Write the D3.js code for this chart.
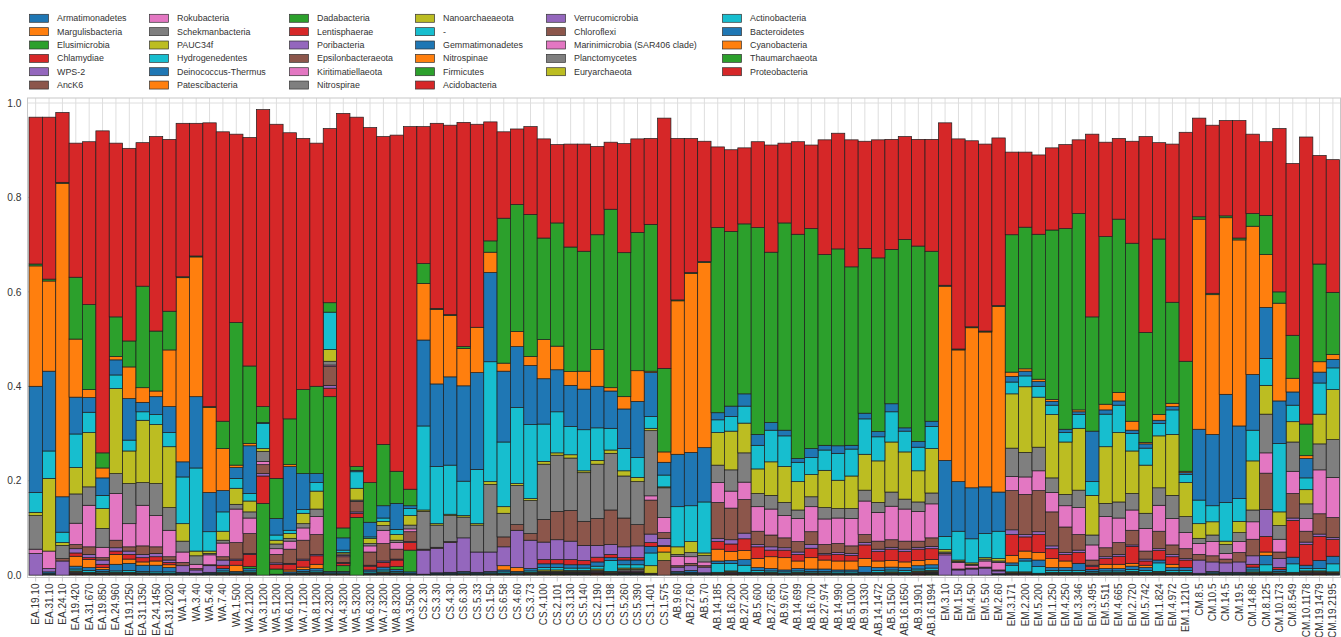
<!DOCTYPE html>
<html>
<head>
<meta charset="utf-8">
<script src="https://cdn.jsdelivr.net/npm/d3@7"></script>
<style>
  body { margin: 0; background: #fff; }
  svg text { font-family: "Liberation Sans", Arial, sans-serif; fill: #333; }
</style>
</head>
<body>
<svg id="chart"></svg>
<script>
// sample names, left to right
const samples = [
  "EA.19.10","EA.31.10","EA.24.10","EA.19.420","EA.31.670","EA.19.850","EA.24.960","EA.19.1250","EA.31.1350","EA.24.1450",
  "EA.31.2020","WA.1.40","WA.3.40","WA.5.40","WA.7.40","WA.1.500","WA.2.1200","WA.3.1200","WA.5.1200","WA.6.1200",
  "WA.7.1200","WA.8.1200","WA.2.3200","WA.4.3200","WA.5.3200","WA.6.3200","WA.7.3200","WA.8.3200","WA.3.5000","CS.2.30",
  "CS.3.30","CS.4.30","CS.6.30","CS.5.33","CS.1.50","CS.6.58","CS.4.60","CS.3.73","CS.4.100","CS.2.101",
  "CS.3.130","CS.5.140","CS.2.190","CS.1.198","CS.5.260","CS.5.390","CS.1.401","CS.1.575","AB.9.60","AB.27.60",
  "AB.5.70","AB.14.185","AB.16.200","AB.27.200","AB.5.600","AB.27.650","AB.9.670","AB.14.699","AB.16.700","AB.27.974",
  "AB.14.990","AB.5.1000","AB.9.1330","AB.14.1472","AB.5.1500","AB.16.1650","AB.9.1901","AB.16.1994","EM.3.10","EM.1.50",
  "EM.4.50","EM.5.50","EM.2.60","EM.3.171","EM.2.200","EM.5.200","EM.1.250","EM.4.250","EM.3.346","EM.3.495",
  "EM.5.511","EM.4.665","EM.2.720","EM.5.742","EM.1.824","EM.4.972","EM.1.1210","CM.8.5","CM.10.5","CM.14.5",
  "CM.19.5","CM.14.86","CM.8.125","CM.10.173","CM.8.549","CM.10.1178","CM.19.1479","CM.19.2195"
];

// relative abundance per sample, in thousandths
const Armatimonadetes = [
  0,0,0,0,0,0,0,0,0,0, 0,0,0,0,0,0,0,0,0,0, 0,0,0,0,0,0,0,0,0,0, 0,0,0,0,0,0,0,0,0,0,
  0,0,0,0,1,1,0,0,0,0, 0,0,0,0,0,0,0,0,0,0, 0,0,0,0,0,0,0,0,0,0, 0,0,0,0,0,0,0,0,0,0,
  0,0,0,0,0,0,0,0,0,0, 0,0,0,0,0,0,0,0];
const Margulisbacteria = [
  0,0,0,0,0,0,0,0,0,0, 0,0,0,0,0,0,0,0,0,0, 0,0,0,0,0,0,0,0,0,0, 0,0,0,0,0,0,0,0,1,1,
  0,0,0,0,0,0,0,0,0,0, 0,0,0,0,0,0,0,0,0,0, 0,0,0,0,0,0,0,0,0,0, 0,0,0,0,0,0,0,0,0,0,
  0,0,0,0,0,0,0,0,0,0, 0,0,0,0,0,0,0,0];
const Elusimicrobia = [
  0,0,0,0,0,0,0,0,0,0, 0,0,0,0,0,0,0,0,0,0, 0,0,0,0,0,0,0,0,0,0, 0,0,0,0,0,0,0,0,0,0,
  0,0,0,0,0,0,0,0,0,0, 0,0,1,1,0,0,0,0,0,0, 0,0,0,0,0,0,0,0,0,0, 0,0,0,0,0,0,0,0,0,0,
  0,0,0,0,0,0,0,0,0,0, 0,0,0,0,0,0,0,0];
const Chlamydiae = [
  0,0,0,0,0,0,0,0,0,0, 0,0,0,0,0,0,0,0,0,0, 0,0,0,0,0,0,0,0,0,0, 0,0,0,0,0,0,0,0,0,0,
  0,0,1,0,0,0,0,0,0,0, 0,0,0,0,0,0,0,0,0,0, 0,0,0,0,0,0,1,0,0,0, 0,0,0,0,0,0,0,0,0,0,
  0,0,0,0,0,0,0,0,0,0, 0,0,0,0,0,0,0,0];
const WPS2 = [
  0,0,0,0,0,0,0,0,0,0, 0,0,0,0,0,0,0,0,0,0, 0,0,0,0,0,0,0,0,0,0, 0,0,0,0,0,0,0,0,0,0,
  1,1,0,0,0,0,0,0,0,0, 0,0,0,0,0,0,0,0,0,0, 0,0,0,0,0,0,0,0,0,0, 0,0,0,0,0,0,0,0,0,0,
  0,0,0,0,0,0,0,0,0,0, 0,0,0,0,0,0,0,0];
const AncK6 = [
  0,0,0,0,0,0,0,0,0,0, 0,0,0,0,0,0,0,0,0,0, 0,0,0,0,0,0,0,0,0,0, 0,0,0,0,0,0,0,0,0,0,
  0,0,0,0,1,0,0,0,0,0, 0,0,0,0,0,0,0,0,0,0, 0,0,0,0,0,0,0,0,0,0, 0,0,0,1,0,0,0,0,0,0,
  0,0,0,0,0,0,0,0,0,0, 0,0,0,0,0,0,0,0];
const Rokubacteria = [
  0,0,0,0,0,0,0,0,0,0, 0,0,0,0,0,0,0,0,0,0, 0,0,0,0,0,0,0,0,0,0, 0,0,0,0,0,0,0,0,0,0,
  0,0,0,0,0,1,0,0,0,0, 0,0,0,0,0,0,0,0,0,0, 0,0,0,0,0,0,0,0,0,0, 0,0,0,0,1,0,0,0,0,0,
  0,0,0,0,0,0,0,0,0,0, 0,0,0,0,0,0,0,0];
const Schekmanbacteria = [
  0,0,0,1,0,0,0,0,0,0, 0,0,0,0,0,0,0,0,0,0, 0,0,0,0,0,0,0,0,0,0, 0,0,0,0,0,0,0,0,0,0,
  0,0,0,0,0,0,0,0,0,0, 0,0,0,0,0,0,0,0,0,0, 0,0,0,0,1,0,0,0,0,0, 0,0,0,0,0,0,0,0,0,0,
  0,0,0,0,0,0,0,0,0,0, 0,0,0,0,0,0,0,0];
const PAUC34f = [
  0,0,0,0,0,0,0,0,0,0, 0,0,0,0,0,0,0,0,0,0, 0,0,0,0,0,0,0,0,0,0, 0,0,0,0,0,0,0,0,0,0,
  0,0,0,0,0,0,0,0,0,0, 0,0,0,0,0,0,0,0,0,0, 0,0,0,0,0,0,0,1,0,0, 0,0,0,0,0,0,0,0,0,0,
  0,0,0,0,0,0,0,0,0,0, 0,0,0,0,0,0,1,0];
const Hydrogenedentes = [
  0,0,0,0,0,0,0,0,0,0, 0,0,0,0,0,0,0,0,0,0, 0,0,0,0,0,0,0,0,0,0, 0,0,0,0,0,0,0,0,0,0,
  0,0,0,0,0,0,0,0,0,0, 0,0,0,0,0,0,0,0,0,0, 0,0,0,0,0,0,0,0,0,0, 0,0,0,0,0,0,0,0,0,0,
  0,0,0,0,0,0,0,0,0,0, 0,0,0,0,0,1,0,1];
const DeinococcusThermus = [
  0,0,0,0,0,0,0,0,0,0, 0,0,0,0,0,0,0,0,0,0, 0,0,0,0,0,0,0,0,0,0, 0,0,0,0,0,0,0,0,0,0,
  0,0,1,0,1,1,0,0,0,0, 0,0,0,0,0,0,0,0,0,0, 0,0,0,0,0,0,0,0,0,0, 0,0,0,0,0,0,0,0,0,0,
  0,0,0,0,0,0,0,0,0,0, 0,0,0,0,0,0,0,0];
const Patescibacteria = [
  0,0,0,0,0,0,0,0,0,0, 0,0,0,0,0,0,0,0,0,0, 0,0,0,0,0,0,0,0,0,0, 0,0,0,0,0,0,0,0,1,1,
  1,1,1,0,1,1,0,0,0,0, 0,0,0,0,0,0,0,0,0,0, 0,0,0,0,0,0,0,1,0,0, 0,0,0,0,0,0,0,0,0,0,
  0,0,0,0,0,0,0,0,0,0, 0,0,0,0,0,0,0,0];
const Dadabacteria = [
  0,0,0,1,1,1,1,1,1,1, 1,0,0,0,1,0,1,0,0,0, 1,1,0,0,0,1,1,1,0,0, 0,0,0,0,0,1,0,1,1,1,
  1,1,1,1,1,1,1,0,0,1, 0,1,1,1,1,1,1,1,1,1, 1,1,1,1,1,1,1,1,0,0, 0,0,0,1,1,1,1,1,1,1,
  1,1,1,1,1,1,1,0,0,0, 0,1,1,1,1,1,1,1];
const Lentisphaerae = [
  0,0,0,1,0,0,0,0,0,0, 0,0,0,0,0,0,0,0,0,0, 0,0,0,0,0,0,1,0,0,0, 0,0,0,0,0,0,0,0,1,1,
  1,1,1,1,1,1,0,0,0,0, 0,0,1,0,0,0,0,0,0,0, 0,0,0,0,0,0,1,1,0,0, 0,0,0,0,0,0,0,0,0,0,
  0,0,1,0,1,0,0,0,0,0, 0,1,0,0,0,1,1,0];
const Poribacteria = [
  0,0,0,1,1,1,1,1,1,0, 0,0,0,0,1,0,1,0,0,0, 1,1,0,0,0,0,1,1,0,0, 0,0,0,0,0,0,0,1,1,1,
  1,1,1,1,1,1,1,0,0,0, 0,1,1,1,1,1,0,1,1,1, 0,0,0,1,1,1,1,1,0,0, 0,0,0,1,1,0,1,1,1,1,
  1,1,1,1,1,1,1,0,0,0, 0,1,1,1,1,1,1,1];
const Epsilonbacteraeota = [
  0,0,0,0,0,0,0,0,0,0, 0,0,0,0,0,0,0,0,0,0, 0,0,0,0,0,0,0,0,0,0, 0,0,0,0,0,0,0,0,0,0,
  0,0,0,0,0,0,0,31,0,0, 0,0,0,0,0,0,0,0,0,0, 0,0,0,0,0,0,0,0,0,0, 0,0,0,0,0,0,0,0,0,0,
  0,0,0,0,0,0,0,0,0,0, 0,0,1,0,0,0,0,0];
const Kiritimatiellaeota = [
  0,0,0,1,1,1,1,1,1,1, 1,0,0,0,1,1,1,0,0,0, 1,1,1,1,0,1,1,1,0,0, 0,0,1,0,1,1,1,1,1,1,
  1,1,2,1,2,2,1,0,1,1, 0,1,1,1,1,1,1,1,1,1, 1,1,1,1,1,1,1,1,0,0, 0,0,0,1,1,1,1,1,1,1,
  1,1,1,1,1,1,1,0,1,0, 0,1,1,1,1,1,1,1];
const Nitrospirae = [
  0,1,0,2,1,1,1,1,1,1, 1,1,1,1,1,1,1,0,0,1, 1,1,1,1,0,1,1,1,1,0, 1,1,1,1,1,1,1,1,2,2,
  2,2,2,2,3,3,1,0,1,1, 1,1,2,1,1,1,1,1,1,1, 1,1,1,1,1,1,2,2,0,0, 0,0,1,1,1,1,1,1,1,1,
  1,1,2,1,2,1,1,1,1,1, 1,1,1,1,1,2,2,1];
const Nanoarchaeaeota = [
  0,1,0,2,2,1,2,2,1,1, 1,1,0,1,2,1,2,0,0,1, 1,2,1,1,0,1,2,1,1,0, 1,1,1,1,1,1,1,2,3,3,
  2,2,3,2,3,3,16,18,1,1, 1,2,2,1,2,2,1,2,1,1, 1,1,1,2,2,2,2,2,0,0, 0,0,0,2,2,1,2,2,2,1,
  2,2,2,2,2,2,2,0,1,1, 1,2,2,1,2,2,2,2];
const Unassigned = [
  0,2,0,4,4,3,3,4,3,3, 3,2,1,2,3,2,3,0,1,2, 3,3,2,2,0,3,4,3,2,1, 1,2,2,2,2,3,2,3,5,5,
  5,5,6,23,7,7,27,0,2,2, 1,19,16,15,4,3,3,3,3,3, 3,3,2,4,4,4,4,5,0,0, 0,0,1,14,23,14,4,4,4,3,
  3,3,4,4,18,4,4,1,2,2, 2,4,15,3,18,5,5,17];
const Gemmatimonadetes = [
  0,3,0,6,6,4,14,15,13,14, 9,2,2,2,5,3,5,0,1,3, 4,5,3,3,0,4,6,4,3,1, 2,2,3,2,3,4,3,5,8,8,
  7,7,9,6,10,10,14,0,3,4, 2,5,6,12,6,5,4,5,5,5, 4,4,12,6,6,6,7,7,0,0, 0,0,1,5,5,14,6,6,15,4,
  5,5,7,6,6,6,6,2,3,2, 2,6,20,4,14,7,17,16];
const Nitrospinae = [
  0,0,0,21,17,4,21,9,7,9, 6,0,0,0,0,13,0,0,0,4, 5,9,0,0,0,0,0,0,0,0, 0,0,0,0,0,9,8,0,0,0,
  0,0,0,0,0,0,0,12,0,0, 0,25,19,19,19,25,26,16,24,19, 19,19,17,14,14,12,11,11,0,0, 0,0,0,16,16,16,19,14,0,0,
  9,9,6,5,0,7,0,0,0,0, 0,0,7,0,0,0,0,0];
const Firmicutes = [
  0,0,0,0,0,0,0,0,0,0, 0,0,0,0,0,0,4,152,11,0, 0,0,370,12,122,0,0,6,46,0, 0,0,0,0,0,0,0,0,0,0,
  0,0,0,0,0,0,0,0,0,0, 0,0,0,0,0,0,0,0,0,0, 0,0,0,0,0,0,0,0,0,0, 0,0,0,0,0,0,0,0,0,0,
  0,0,0,0,0,0,0,0,0,0, 0,0,0,0,0,0,0,0];
const Acidobacteria = [
  0,0,0,7,4,7,7,10,9,9, 5,0,0,0,7,10,26,58,10,12, 14,18,18,5,9,8,10,14,16,0, 0,0,0,0,0,0,0,0,9,9,
  11,9,10,7,5,5,8,2,0,0, 0,16,16,25,25,14,16,14,20,11, 14,12,29,20,24,22,24,23,0,0, 0,0,0,44,30,38,21,14,23,6,
  12,17,36,9,20,16,16,0,0,0, 0,6,33,4,78,44,51,36];
const Verrucomicrobia = [
  46,7,30,9,7,9,7,7,7,7, 5,14,7,14,11,3,2,5,3,2, 3,3,6,2,3,2,3,2,2,51, 52,63,71,43,41,40,79,60,37,42,
  39,32,25,21,23,25,18,15,9,10, 12,7,9,12,5,7,5,5,8,3, 4,4,5,5,4,5,4,5,43,11, 13,15,6,10,5,6,6,4,5,3,
  4,4,3,4,4,5,3,28,20,20, 22,18,57,19,5,5,5,4];
const Chloroflexi = [
  0,0,5,9,16,5,16,9,18,14, 7,7,3,2,7,35,42,19,18,30, 40,42,40,12,22,28,37,21,21,2, 2,2,0,0,0,21,12,14,48,60,
  65,51,57,73,61,45,72,12,3,5, 3,76,67,71,28,25,21,22,27,19, 19,16,17,17,16,17,13,18,0,2, 2,2,2,83,85,87,72,54,33,11,
  19,25,31,17,37,20,21,12,13,8, 20,35,77,14,52,23,43,42];
const Marinimicrobia = [
  9,37,0,45,88,22,99,49,86,66, 56,22,9,21,29,71,33,7,12,17, 26,38,3,3,0,13,28,14,6,0, 0,0,0,0,0,0,0,0,0,0,
  0,0,0,0,0,0,9,32,20,14, 8,42,36,37,52,55,47,49,53,54, 54,58,71,61,71,68,63,72,3,14, 6,13,16,30,37,42,41,45,57,32,
  66,52,43,48,55,56,34,23,30,12, 23,37,43,27,47,27,93,85];
const Planctomycetes = [
  71,0,28,62,39,40,42,85,48,68, 48,23,18,3,6,10,13,21,10,6, 9,16,8,3,3,5,10,5,8,80, 47,55,44,57,143,50,83,70,117,119,
  111,103,115,120,89,91,138,63,4,9, 14,37,45,62,28,29,28,18,21,24, 20,21,23,21,30,21,20,23,3,2, 2,4,3,60,52,50,31,24,37,21,
  28,34,35,32,37,49,34,11,14,19, 19,25,82,29,62,31,55,80];
const Euryarchaeota = [
  7,154,6,56,115,42,180,69,132,125, 129,37,10,5,19,34,23,6,8,10, 22,38,25,3,25,11,9,12,20,3, 3,3,3,3,6,14,4,4,6,5,
  7,4,8,7,11,9,5,2,16,23, 5,69,82,63,52,71,76,60,47,79, 60,69,76,88,106,100,66,94,5,3, 3,3,5,115,139,106,134,111,131,84,
  120,147,90,102,110,129,72,31,28,7, 24,104,61,29,43,30,63,106];
const Actinobacteria = [
  42,58,22,71,43,28,29,23,18,21, 30,99,176,41,41,21,16,53,11,7, 8,18,79,5,35,3,7,11,15,178, 121,104,73,115,254,137,161,157,79,87,
  60,87,69,46,47,42,25,25,85,76, 108,27,31,36,50,67,65,41,36,43, 57,57,75,51,64,44,50,47,28,61, 51,51,58,25,23,23,20,20,29,29,
  69,58,37,36,26,52,17,50,34,82, 48,65,57,145,35,25,66,46];
const Bacteroidetes = [
  225,169,75,78,31,37,32,88,20,38, 55,32,151,83,45,23,101,2,35,135, 76,19,0,26,3,31,26,55,6,182, 175,187,202,205,189,150,129,125,96,89,
  87,86,88,79,84,119,93,27,111,113, 115,15,22,26,23,16,12,8,19,10, 16,8,12,11,17,7,12,11,161,105, 108,99,83,12,10,10,8,7,6,107,
  9,9,7,9,7,7,4,150,151,229, 154,118,108,90,28,41,23,18];
const Cyanobacteria = [
  255,191,664,123,17,21,7,67,31,12, 120,390,296,180,89,5,5,0,0,4, 0,0,0,0,0,0,0,0,0,120, 158,130,79,96,43,17,32,19,83,50,
  29,38,78,7,26,65,3,22,325,379, 392,0,0,0,0,0,0,0,0,0, 0,0,0,0,0,0,0,0,369,279, 339,328,393,9,5,5,4,0,4,0,
  12,18,19,3,12,7,3,445,296,374, 394,314,112,207,29,6,22,10];
const Thaumarchaeota = [
  4,4,2,131,180,32,84,55,215,127, 82,2,2,2,58,302,164,34,85,97, 178,185,20,21,8,84,130,68,35,42, 2,2,4,0,24,307,269,301,215,261,
  264,254,243,378,305,293,311,177,2,2, 2,392,370,360,438,361,439,475,466,404, 417,378,349,368,327,399,414,360,2,2, 2,2,2,291,300,307,359,425,416,242,
  355,367,377,233,372,214,233,5,3,4, 4,27,83,24,91,67,207,132];
const Proteobacteria = [
  311,343,148,284,345,682,368,408,304,412, 364,325,281,601,613,399,484,629,750,606, 532,515,369,878,740,752,652,712,768,290, 392,401,475,430,252,183,160,186,210,166,
  218,227,187,142,231,198,182,530,342,284, 255,171,173,161,182,227,169,196,177,243, 245,269,227,250,233,218,226,237,344,445, 394,396,355,175,159,168,174,178,156,387,
  200,171,216,415,204,335,485,209,356,202, 249,168,156,346,364,608,230,281];

// stacking order, bottom to top (also legend order, column by column)
const phyla = [
  "Armatimonadetes","Margulisbacteria","Elusimicrobia","Chlamydiae","WPS-2","AncK6",
  "Rokubacteria","Schekmanbacteria","PAUC34f","Hydrogenedentes","Deinococcus-Thermus","Patescibacteria",
  "Dadabacteria","Lentisphaerae","Poribacteria","Epsilonbacteraeota","Kiritimatiellaeota","Nitrospirae",
  "Nanoarchaeaeota","-","Gemmatimonadetes","Nitrospinae","Firmicutes","Acidobacteria",
  "Verrucomicrobia","Chloroflexi","Marinimicrobia (SAR406 clade)","Planctomycetes","Euryarchaeota",
  "Actinobacteria","Bacteroidetes","Cyanobacteria","Thaumarchaeota","Proteobacteria"
];
const phylumValues = [
  Armatimonadetes, Margulisbacteria, Elusimicrobia, Chlamydiae, WPS2, AncK6,
  Rokubacteria, Schekmanbacteria, PAUC34f, Hydrogenedentes, DeinococcusThermus, Patescibacteria,
  Dadabacteria, Lentisphaerae, Poribacteria, Epsilonbacteraeota, Kiritimatiellaeota, Nitrospirae,
  Nanoarchaeaeota, Unassigned, Gemmatimonadetes, Nitrospinae, Firmicutes, Acidobacteria,
  Verrucomicrobia, Chloroflexi, Marinimicrobia, Planctomycetes, Euryarchaeota,
  Actinobacteria, Bacteroidetes, Cyanobacteria, Thaumarchaeota, Proteobacteria
];
const legendCols = [6, 6, 6, 6, 5, 5];
const yTicks = [0, 0.2, 0.4, 0.6, 0.8, 1.0];

const W = 1341, H = 637;
const plot = {left: 27.5, right: 1340.5, top: 98, bottom: 577.5};

const svg = d3.select("#chart").attr("width", W).attr("height", H);

const rows = samples.map((s, i) => {
  const r = {sample: s};
  phyla.forEach((p, k) => { r[p] = phylumValues[k][i] / 1000; });
  return r;
});

const stacked = d3.stack().keys(phyla)(rows);

const x = d3.scaleBand()
  .domain(samples)
  .range([29, 1339.6])
  .padding(0);

const y = d3.scaleLinear()
  .domain([-0.005, 1.0106])
  .range([plot.bottom, plot.top]);

const color = d3.scaleOrdinal().domain(phyla).range(phyla.map((p, i) => d3.schemeCategory10[i % 10]));

// grid
svg.append("g")
  .selectAll("line")
  .data(samples)
  .enter().append("line")
  .attr("x1", d => x(d) + x.bandwidth() / 2)
  .attr("x2", d => x(d) + x.bandwidth() / 2)
  .attr("y1", plot.top)
  .attr("y2", plot.bottom)
  .attr("stroke", "#dedede")
  .attr("stroke-width", 1);

svg.append("g")
  .selectAll("line")
  .data(yTicks)
  .enter().append("line")
  .attr("x1", plot.left)
  .attr("x2", plot.right)
  .attr("y1", d => y(d))
  .attr("y2", d => y(d))
  .attr("stroke", "#dedede")
  .attr("stroke-width", 1);

// bars
const layer = svg.append("g")
  .selectAll("g")
  .data(stacked)
  .enter().append("g")
  .attr("fill", d => color(d.key));

layer.selectAll("rect")
  .data(d => d.filter(s => s[1] - s[0] > 0))
  .enter().append("rect")
  .attr("x", d => x(d.data.sample))
  .attr("y", d => y(d[1]))
  .attr("width", x.bandwidth())
  .attr("height", d => y(d[0]) - y(d[1]))
  .attr("stroke", "#1e1e1e")
  .attr("stroke-width", 0.7);

// frame
svg.append("rect")
  .attr("x", plot.left)
  .attr("y", plot.top)
  .attr("width", plot.right - plot.left)
  .attr("height", plot.bottom - plot.top)
  .attr("fill", "none")
  .attr("stroke", "#c8c8c8")
  .attr("stroke-width", 1);

// x axis
const xAxis = svg.append("g")
  .attr("transform", "translate(0," + plot.bottom + ")")
  .call(d3.axisBottom(x).tickSize(4).tickSizeOuter(0));
xAxis.select(".domain").remove();
xAxis.selectAll(".tick line").attr("stroke", "#c8c8c8");
xAxis.selectAll(".tick text")
  .attr("font-size", "10px")
  .attr("font-family", "Liberation Sans, Arial, sans-serif")
  .attr("fill", "#333")
  .attr("text-anchor", "end")
  .attr("transform", "rotate(-90)")
  .attr("x", -6)
  .attr("y", 0)
  .attr("dy", "0.35em");

// y axis
const yAxis = svg.append("g")
  .attr("transform", "translate(" + plot.left + ",0)")
  .call(d3.axisLeft(y).tickValues(yTicks).tickFormat(d3.format(".1f")).tickSize(0));
yAxis.select(".domain").remove();
yAxis.selectAll(".tick text")
  .attr("font-size", "10.2px")
  .attr("font-family", "Liberation Sans, Arial, sans-serif")
  .attr("fill", "#333")
  .attr("x", -6);

// legend
const colX = [29, 149, 289, 415, 546, 722];
let idx = 0;
const legendItems = [];
legendCols.forEach((n, c) => {
  for (let r = 0; r < n; r++) {
    legendItems.push({name: phyla[idx], col: c, row: r});
    idx++;
  }
});

const leg = svg.append("g")
  .selectAll("g")
  .data(legendItems)
  .enter().append("g")
  .attr("transform", d => "translate(" + colX[d.col] + "," + (18.3 + d.row * 13.35) + ")");

leg.append("rect")
  .attr("x", 0.5)
  .attr("y", -4)
  .attr("width", 19)
  .attr("height", 8)
  .attr("fill", d => color(d.name))
  .attr("stroke", "#333")
  .attr("stroke-width", 0.7);

leg.append("text")
  .attr("x", 28)
  .attr("y", 0)
  .attr("dy", "0.35em")
  .attr("font-size", "8.9px")
  .text(d => d.name);
</script>
</body>
</html>
